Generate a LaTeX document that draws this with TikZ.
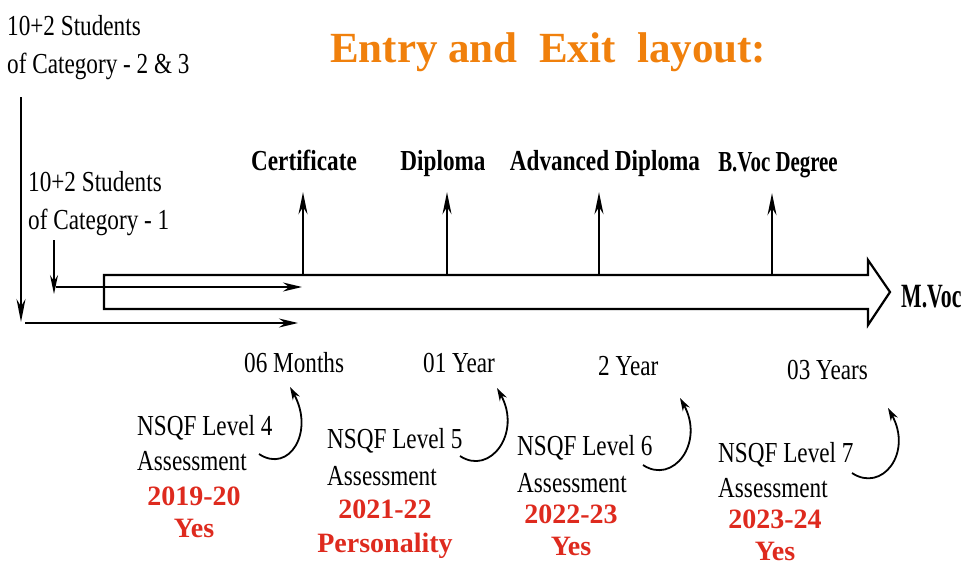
\documentclass[tikz,border=0pt]{standalone}
\usepackage{fontspec}
\setmainfont{Liberation Serif}
\newfontfamily\narrowfont[FakeStretch=0.8]{Liberation Serif}
\newfontfamily\degreefont[FakeStretch=0.72]{Liberation Serif}
\newfontfamily\mvocfont[FakeStretch=0.64]{Liberation Serif}
\usetikzlibrary{arrows.meta,positioning,calc}
\definecolor{layoutorange}{RGB}{240,128,12}
\definecolor{yearred}{RGB}{222,42,30}

\begin{document}
\begin{tikzpicture}
[x=1pt,y=-1pt,
flow/.style={line width=1.8pt,-{Stealth[length=19pt,width=9pt]}},
longflow/.style={line width=1.8pt,-{Stealth[length=23pt,width=9pt]}},
thinflow/.style={line width=1.2pt,-{Stealth[length=19pt,width=8pt]}},
exitarrow/.style={line width=1.8pt,-{Stealth[length=22pt,width=9pt]},shorten >=22pt},
loopedge/.style={line width=1.8pt,-{Stealth[length=13pt,width=8pt]}},
bigarrow/.style={line width=2.2pt,line join=miter},
plaintxt/.style={inner sep=0pt,anchor=base west,align=left,font=\narrowfont\fontsize{29}{36}\selectfont},
exitlbl/.style={inner sep=0pt,anchor=base,text depth=0pt,font=\narrowfont\bfseries\fontsize{29}{35}\selectfont},
yeartxt/.style={inner sep=0pt,anchor=base,align=center,text=yearred,font=\bfseries\fontsize{28}{33}\selectfont}]
\useasboundingbox (0,0) rectangle (966,560);
%%
% title
%%
\node[anchor=base west,inner sep=0pt,text=layoutorange,font=\bfseries\fontsize{43}{50}\selectfont]
(title) at (330,62) {Entry and\ \ Exit\ \ layout:};
%%
% entry of students (base = last line)
%%
\node[plaintxt,font=\narrowfont\fontsize{29}{38}\selectfont] (cat23) at (7,73) {10+2 Students\\of Category - 2 \& 3};
\node[plaintxt,font=\narrowfont\fontsize{29}{38}\selectfont] (cat1) at (28,229) {10+2 Students\\of Category - 1};
\coordinate (in23) at (21,97);
\coordinate (down23) at (21,322);
\coordinate (go23) at (25,323);
\coordinate (end23) at (298,323);
\coordinate (in1) at (54,240);
\coordinate (down1) at (54,294);
\coordinate (go1) at (56,287);
\coordinate (end1) at (302,287);
\draw[longflow] (in23) -- (down23);
\draw[flow] (go23) -- (end23);
\draw[thinflow] (in1) -- (down1);
\draw[flow] (go1) -- (end1);
%%
% programme arrow
%%
\draw[bigarrow] (104,275) -- (868,275) -- (868,260) -- (890,292)
-- (868,325) -- (868,309) -- (104,309) -- cycle;
\node[anchor=base west,inner sep=0pt,font=\mvocfont\bfseries\fontsize{34}{40}\selectfont]
(mvoc) at (901,307) {M.Voc};
%%
% exits
%%
\node[exitlbl] (cert) at (304,170) {Certificate};
\node[exitlbl] (dipl) at (443,170) {Diploma};
\node[exitlbl] (advdipl) at (605,170) {Advanced Diploma};
\node[exitlbl,font=\degreefont\bfseries\fontsize{29}{35}\selectfont] (bvoc) at (778,171) {B.Voc Degree};
\coordinate (bar1) at (303,275);
\coordinate (bar2) at (447,275);
\coordinate (bar3) at (599,275);
\coordinate (bar4) at (772,275);
\draw[exitarrow] (bar1) -- (bar1 |- cert.south);
\draw[exitarrow] (bar2) -- (bar2 |- dipl.south);
\draw[exitarrow] (bar3) -- (bar3 |- advdipl.south);
\draw[exitarrow] (bar4) -- (bar4 |- bvoc.south);
%%
% durations
%%
\node[plaintxt] (mon06) at (244,372) {06 Months};
\node[plaintxt] (yr01) at (423,372) {01 Year};
\node[plaintxt] (yr2) at (598,375) {2 Year};
\node[plaintxt] (yr03) at (787,379) {03 Years};
%%
% NSQF levels (base = last line)
%%
\node[plaintxt,font=\narrowfont\fontsize{29}{35}\selectfont] (lvl4) at (137,470) {NSQF Level 4\\Assessment};
\node[plaintxt,font=\narrowfont\fontsize{29}{37}\selectfont] (lvl5) at (327,485) {NSQF Level 5\\Assessment};
\node[plaintxt,font=\narrowfont\fontsize{29}{37}\selectfont] (lvl6) at (517,492) {NSQF Level 6\\Assessment};
\node[plaintxt,font=\narrowfont\fontsize{29}{35}\selectfont] (lvl7) at (718,497) {NSQF Level 7\\Assessment};
%
\node[yeartxt,font=\bfseries\fontsize{28}{32}\selectfont] (ses4) at (194,537) {2019-20\\Yes};
\node[yeartxt,font=\bfseries\fontsize{28}{34}\selectfont] (ses5) at (385,552) {2021-22\\Personality};
\node[yeartxt,font=\bfseries\fontsize{28}{32}\selectfont] (ses6) at (571,555) {2022-23\\Yes};
\node[yeartxt,font=\bfseries\fontsize{28}{32}\selectfont] (ses7) at (775,560) {2023-24\\Yes};
%%
% assessment loops
%%
\coordinate (from4) at (259,454);
\coordinate (to4) at (290,387);
\coordinate (from5) at (460,456);
\coordinate (to5) at (497,388);
\coordinate (from6) at (643,465);
\coordinate (to6) at (680,398);
\coordinate (from7) at (852,473);
\coordinate (to7) at (888,408);
\draw[loopedge] (from4) .. controls +(30,20) and +(25,45) .. (to4);
\draw[loopedge] (from5) .. controls +(30,20) and +(25,45) .. (to5);
\draw[loopedge] (from6) .. controls +(30,20) and +(25,45) .. (to6);
\draw[loopedge] (from7) .. controls +(30,20) and +(25,45) .. (to7);
\end{tikzpicture}
\end{document}
